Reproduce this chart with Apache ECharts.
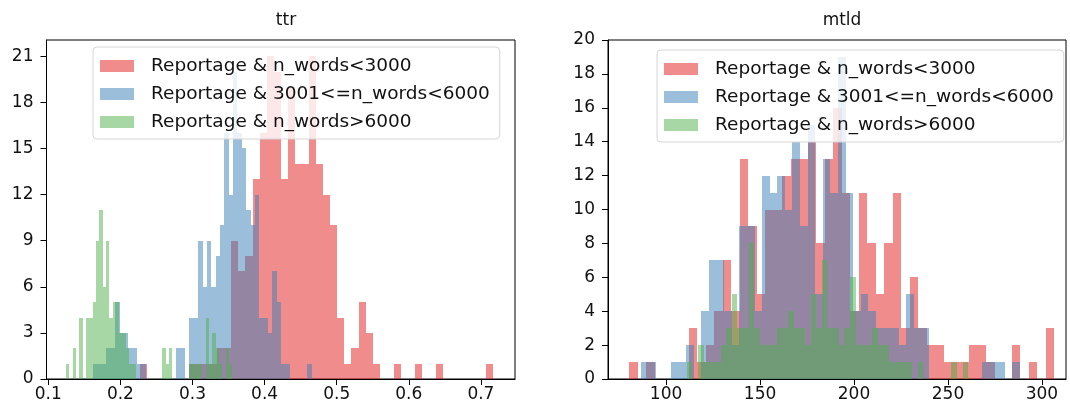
<!DOCTYPE html>
<html>
<head>
<meta charset="utf-8">
<script src="https://cdn.jsdelivr.net/npm/echarts@6/dist/echarts.min.js"></script>
<style>
  html, body { margin: 0; padding: 0; background: #fff; }
  #chart { width: 1070px; height: 408px; }
</style>
</head>
<body>
<div id="chart"></div>
<script>
// Group names, in drawing order
const groupNames = [
  'Reportage & n_words<3000',
  'Reportage & 3001<=n_words<6000',
  'Reportage & n_words>6000'
];
const groupColors = ['rgba(228,26,28,0.5)', 'rgba(55,126,184,0.5)', 'rgba(77,175,74,0.5)'];

// ttr: first bin edge and bin width per group (50 bins each)
const ttrBinStart = [0.2265, 0.1624, 0.12455];
const ttrBinWidth = [0.0098, 0.00606, 0.00461];
const ttrShort = [1,0,0,0,0,0,0,1,1,1, 1,2,2,9,7,8,13,16,21,20, 13,19,14,14,21,14,12,10,4,1, 2,5,3,1,0,0,1,0,0,1, 0,0,1,0,0,0,0,0,0,1];
const ttrMid   = [1,1,1,2,2,5,3,3,2,2, 1,1,0,0,0,0,0,0,0,2, 2,0,4,4,9,6,9,6,8,10, 16,12,20,16,15,11,10,12,4,4, 3,7,5,1,1,0,0,0,0,1];
const ttrLong  = [1,0,2,0,4,0,4,4,5,9, 11,6,9,4,5,5,3,3,2,1, 1,0,0,0,0,0,0,0,0,2, 1,2,0,0,0,0,0,1,1,1, 1,0,4,1,3,2,1,0,2,1];

// mtld: first bin edge and bin width per group (50 bins each)
const mtldBinStart = [80.48, 86.54, 111.0];
const mtldBinWidth = [4.52, 4.035, 2.995];
const mtldShort = [1,0,1,0,0,0,0,3,1,2, 4,7,4,13,9,5,10,10,12,13, 13,14,8,13,16,11,4,11,8,5, 8,11,3,6,3,2,2,1,1,1, 2,2,1,0,0,2,0,1,0,3];
const mtldMid   = [1,1,0,0,1,1,2,0,4,7, 7,4,2,9,9,4,12,11,12,10, 14,9,15,5,13,11,19,11,4,5, 4,3,3,3,2,5,3,3,0,0, 0,0,0,0,0,1,1,1,0,1];
const mtldLong  = [1,0,2,1,1,1,2,3,5,3, 3,8,3,2,2,2,3,3,4,3, 3,2,5,3,7,3,3,2,3,6, 2,2,2,3,2,2,1,1,1,1, 0,1,0,0,0,0,0,1,0,1];

// Axis ticks
const ttrTicks = [0.1, 0.2, 0.3, 0.4, 0.5, 0.6, 0.7];
const ttrCountTicks = [0, 3, 6, 9, 12, 15, 18, 21];
const mtldTicks = [100, 150, 200, 250, 300];
const mtldCountTicks = [0, 2, 4, 6, 8, 10, 12, 14, 16, 18, 20];

const FONT = 'DejaVu Sans';
const INK = '#111';

// [left edge, right edge, count] for every non-empty bin
function binsOf(start, width, counts) {
  const out = [];
  counts.forEach((c, i) => {
    if (c > 0) out.push([start + i * width, start + (i + 1) * width, c]);
  });
  return out;
}

// Bin edges snapped to whole pixels so neighbouring bars meet without seams
function renderBin(params, api) {
  const topLeft = api.coord([api.value(0), api.value(2)]);
  const bottomRight = api.coord([api.value(1), 0]);
  const x0 = Math.round(topLeft[0]);
  const x1 = Math.round(bottomRight[0]);
  const y0 = Math.round(topLeft[1]);
  const y1 = Math.round(bottomRight[1]);
  return {
    type: 'rect',
    shape: { x: x0, y: y0, width: x1 - x0, height: y1 - y0 },
    style: { fill: groupColors[params.seriesIndex % 3] }
  };
}

function histSeries(axisIndex, starts, widths, groups) {
  return groups.map((counts, g) => ({
    name: groupNames[g],
    type: 'custom',
    xAxisIndex: axisIndex,
    yAxisIndex: axisIndex,
    renderItem: renderBin,
    itemStyle: { color: groupColors[g] },
    encode: { x: [0, 1], y: 2 },
    data: binsOf(starts[g], widths[g], counts),
    silent: true
  }));
}

function valueAxis(gridIndex, min, max, ticks, fmt, isX) {
  return {
    type: 'value',
    gridIndex: gridIndex,
    min: min,
    max: max,
    axisLine: { show: true, onZero: false, lineStyle: { color: '#000', width: 1 } },
    axisTick: { show: true, length: 6, customValues: ticks, lineStyle: { color: '#000', width: 1 } },
    axisLabel: {
      customValues: ticks,
      formatter: fmt,
      fontFamily: FONT,
      fontSize: 17,
      color: INK,
      margin: isX ? 7 : 13
    },
    splitLine: { show: false }
  };
}

function legendAt(left, top) {
  return {
    orient: 'vertical',
    left: left,
    top: top,
    data: groupNames,
    icon: 'rect',
    itemWidth: 34,
    itemHeight: 12,
    itemGap: 6,
    padding: [8, 10, 6, 7],
    backgroundColor: 'rgba(255,255,255,0.8)',
    borderColor: '#d6d6d6',
    borderWidth: 1,
    borderRadius: 4,
    selectedMode: false,
    textStyle: { fontFamily: FONT, fontSize: 18.5, color: INK, lineHeight: 22, padding: [0, 0, 0, 12] },
    z: 10
  };
}

const chart = echarts.init(document.getElementById('chart'), null, { renderer: 'canvas' });

chart.setOption({
  animation: false,
  backgroundColor: '#fff',
  title: [
    { text: 'ttr', left: 281, top: 7, textAlign: 'center',
      textStyle: { fontFamily: FONT, fontSize: 17, fontWeight: 'normal', color: INK } },
    { text: 'mtld', left: 837, top: 7, textAlign: 'center',
      textStyle: { fontFamily: FONT, fontSize: 17, fontWeight: 'normal', color: INK } }
  ],
  grid: [
    { left: 46.5, top: 40, width: 468.5, height: 339, show: true, borderColor: '#000', borderWidth: 1, backgroundColor: 'transparent' },
    { left: 608, top: 40, width: 458, height: 339, show: true, borderColor: '#000', borderWidth: 1, backgroundColor: 'transparent' }
  ],
  xAxis: [
    valueAxis(0, 0.0975, 0.7473, ttrTicks, v => v.toFixed(1), true),
    valueAxis(1, 69.1, 312.8, mtldTicks, v => String(v), true)
  ],
  yAxis: [
    valueAxis(0, 0, 22.05, ttrCountTicks, v => String(v), false),
    valueAxis(1, 0, 20, mtldCountTicks, v => String(v), false)
  ],
  legend: [legendAt(93, 47), legendAt(657, 50)],
  series: [
    ...histSeries(0, ttrBinStart, ttrBinWidth, [ttrShort, ttrMid, ttrLong]),
    ...histSeries(1, mtldBinStart, mtldBinWidth, [mtldShort, mtldMid, mtldLong])
  ]
});
</script>
</body>
</html>
